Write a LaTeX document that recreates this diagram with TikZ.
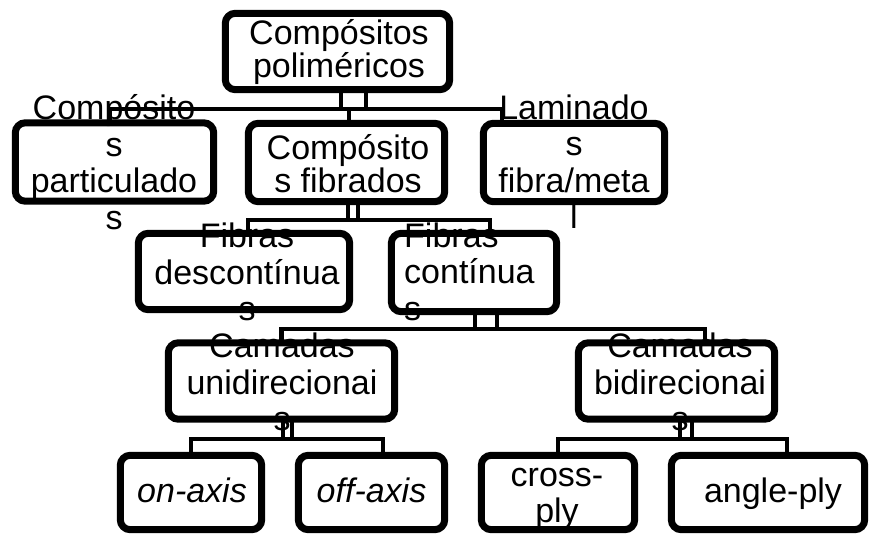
\documentclass[tikz,border=0pt]{standalone}
\usepackage{fontspec}
\setmainfont{Liberation Sans}
\begin{document}
\begin{tikzpicture}[x=1pt,y=-1pt,
  box/.style={draw=none, fill=none, inner sep=0pt, minimum height=77pt},
  boxdraw/.style={draw=black, line width=7pt, rounded corners=10pt, fill=white},
  lbl/.style={font=\fontsize{34}{36.5}\selectfont, align=center, inner sep=0pt},
  lbltight/.style={font=\fontsize{34}{33}\selectfont, align=center, inner sep=0pt},
  conn/.style={line width=4.5pt}]
\useasboundingbox (0,0) rectangle (869,534);

% bus levels
\coordinate (bus1) at (0,109);
\coordinate (bus2) at (0,220);
\coordinate (bus3) at (0,329);
\coordinate (bus4) at (0,439);

% box nodes (outlines drawn after the connectors)
\path (337.5,51.5) node[box, minimum width=224pt, minimum height=76pt] (root) {};
\path (114.5,162)  node[box, minimum width=198pt, minimum height=78pt] (part) {};
\path (346.5,162.5) node[box, minimum width=196pt, minimum height=78pt] (fibr) {};
\path (574,162.5)  node[box, minimum width=181pt, minimum height=78pt] (lamin) {};
\path (244,271.5)  node[box, minimum width=211pt, minimum height=76pt] (desc) {};
\path (474,272.5)  node[box, minimum width=165pt, minimum height=78pt] (cont) {};
\path (281.5,381)  node[box, minimum width=226pt, minimum height=76pt] (uni) {};
\path (676.5,381)  node[box, minimum width=196pt, minimum height=76pt] (bi) {};
\path (191,492.5)  node[box, minimum width=141pt, minimum height=74pt] (on) {};
\path (371.5,492.5) node[box, minimum width=146pt, minimum height=74pt] (off) {};
\path (558,492.5)  node[box, minimum width=153pt, minimum height=74pt] (cross) {};
\path (768,492.5)  node[box, minimum width=193pt, minimum height=74pt] (angle) {};

% level 1 connectors
\coordinate (r1) at ([xshift=3.5pt]root.south);
\coordinate (r2) at ([xshift=28.5pt]root.south);
\coordinate (pdrop) at ([xshift=-4.5pt]part.north);
\coordinate (fdrop) at ([xshift=2.5pt]fibr.north);
\coordinate (ldrop) at ([xshift=-72pt]lamin.north);
\draw[conn] (r1) -- (r1 |- bus1);
\draw[conn] (r2) -- (r2 |- bus1);
\draw[conn] (pdrop) |- (bus1 -| ldrop) -- (ldrop);
\draw[conn] (bus1 -| fdrop) -- (fdrop);

% level 2 connectors
\coordinate (f1) at ([xshift=1.5pt]fibr.south);
\coordinate (f2) at ([xshift=11.5pt]fibr.south);
\coordinate (ddrop) at ([xshift=4pt]desc.north);
\coordinate (cdrop) at ([xshift=16pt]cont.north);
\draw[conn] (f1) -- (f1 |- bus2);
\draw[conn] (f2) -- (f2 |- bus2);
\draw[conn] (ddrop) |- (bus2 -| cdrop) -- (cdrop);

% level 3 connectors
\coordinate (c1) at ([xshift=1pt]cont.south);
\coordinate (c2) at ([xshift=23pt]cont.south);
\coordinate (udrop) at (uni.north);
\coordinate (bdrop) at ([xshift=28.5pt]bi.north);
\draw[conn] (c1) -- (c1 |- bus3);
\draw[conn] (c2) -- (c2 |- bus3);
\draw[conn] (udrop) |- (bus3 -| bdrop) -- (bdrop);

% level 4 connectors (left)
\coordinate (u1) at ([xshift=1.5pt]uni.south);
\coordinate (u2) at ([xshift=10.5pt]uni.south);
\coordinate (odrop) at (on.north);
\coordinate (ofdrop) at ([xshift=11.5pt]off.north);
\draw[conn] (u1) -- (u1 |- bus4);
\draw[conn] (u2) -- (u2 |- bus4);
\draw[conn] (odrop) |- (bus4 -| ofdrop) -- (ofdrop);

% level 4 connectors (right)
\coordinate (b1) at ([xshift=3.5pt]bi.south);
\coordinate (b2) at ([xshift=15.5pt]bi.south);
\coordinate (crdrop) at (cross.north);
\coordinate (adrop) at ([xshift=19pt]angle.north);
\draw[conn] (b1) -- (b1 |- bus4);
\draw[conn] (b2) -- (b2 |- bus4);
\draw[conn] (crdrop) |- (bus4 -| adrop) -- (adrop);

% box outlines
\foreach \n in {root,part,fibr,lamin,desc,cont,uni,bi,on,off,cross,angle}{
  \draw[boxdraw] (\n.north west) rectangle (\n.south east);
}

% texts
\node[lbltight] (troot) at (339,52) {Compósitos\\poliméricos};
\node[lbl] (tpart) at (114,162) {Compósito\\s\\particulado\\s};
\node[lbltight] (tfibr) at (348,164) {Compósito\\s fibrados};
\node[lbl] (tlamin) at (574,161.5) {Laminado\\s\\fibra/meta\\l};
\node[lbl] (tdesc) at (247,272) {Fibras\\descontínua\\s};
\node[lbl, align=left, anchor=west] (tcont) at (404,271.5) {Fibras\\contínua\\s};
\node[lbl] (tuni) at (282,382) {Camadas\\unidirecionai\\s};
\node[lbl] (tbi) at (680,382) {Camadas\\bidirecionai\\s};
\node[lbl, anchor=base, font=\fontsize{34}{36}\selectfont\itshape] (ton) at (192,502) {on-axis};
\node[lbl, anchor=base, font=\fontsize{34}{36}\selectfont\itshape] (toff) at (371.5,502) {off-axis};
\node[lbl] (tcross) at (557,499) {cross-\\ply};
\node[lbl, anchor=base] (tangle) at (773,502) {angle-ply};
\end{tikzpicture}
\end{document}
